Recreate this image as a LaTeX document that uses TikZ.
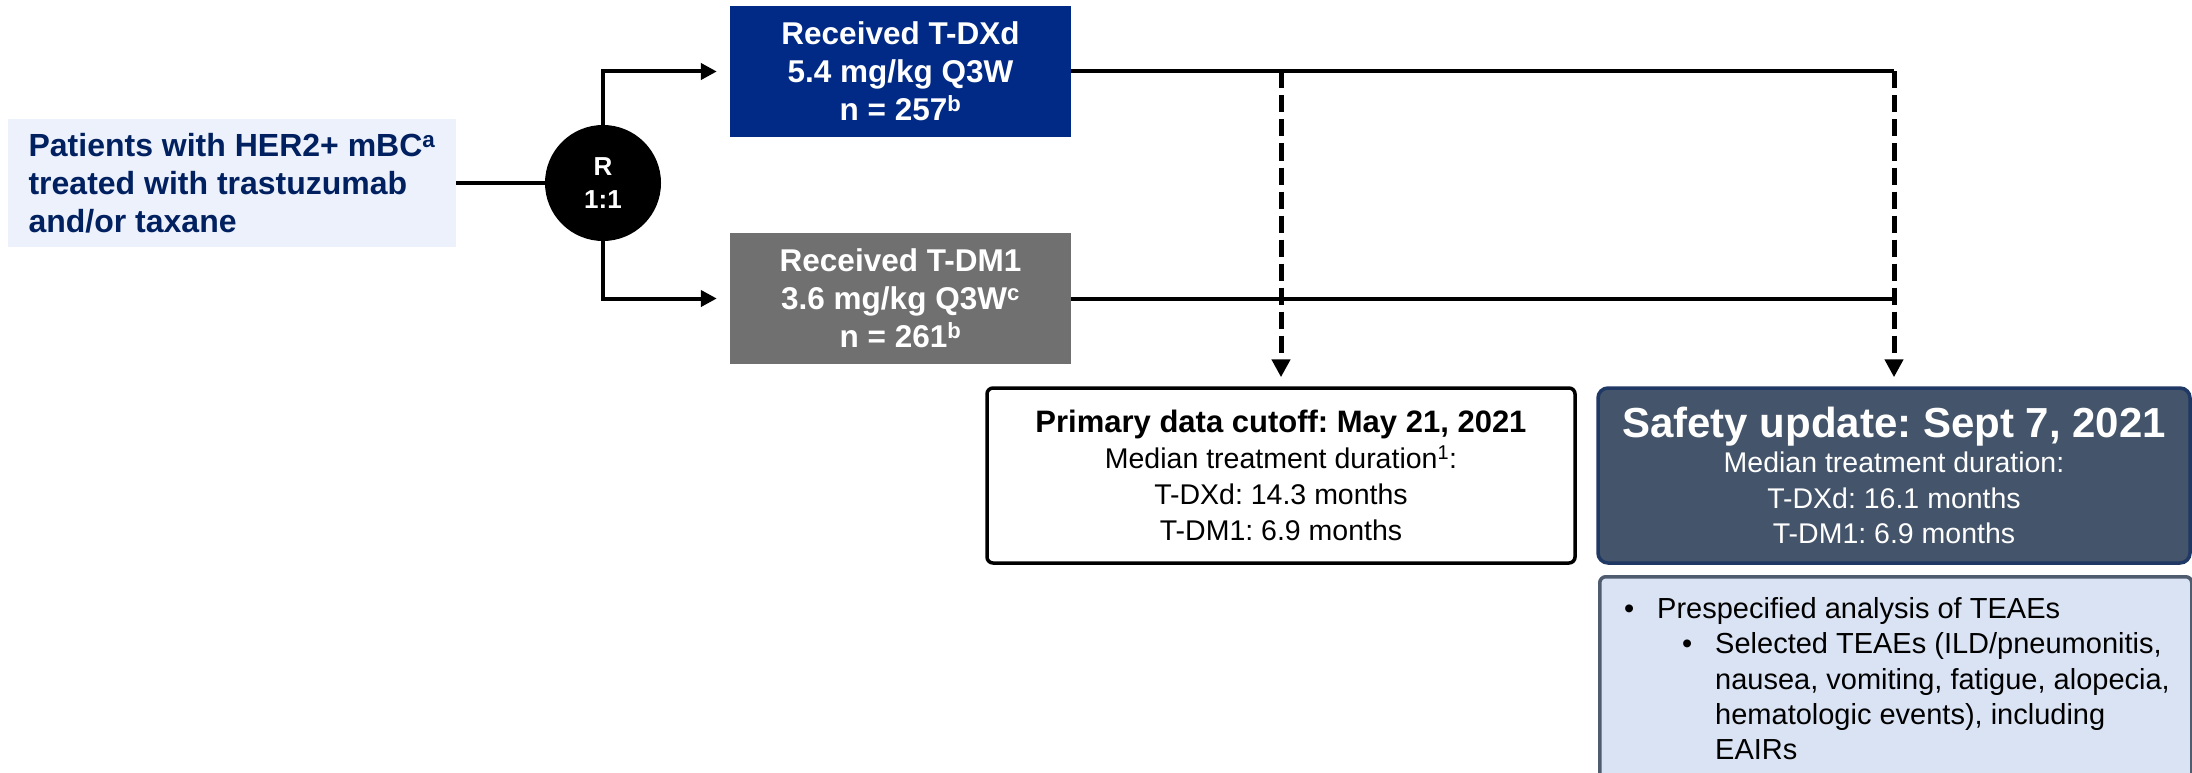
\documentclass[tikz,border=0pt]{standalone}
\usepackage{fontspec}
\setmainfont{Liberation Sans}
\usetikzlibrary{arrows.meta}
\frenchspacing

\definecolor{navytext}{HTML}{002060}
\definecolor{popfill}{HTML}{EDF1FB}
\definecolor{tdxdblue}{HTML}{002A85}
\definecolor{tdmgray}{HTML}{707070}
\definecolor{safetyfill}{HTML}{44546A}
\definecolor{safetyedge}{HTML}{1F3864}
\definecolor{teaefill}{HTML}{DAE3F3}
\definecolor{teaeedge}{HTML}{4F5B6E}

\begin{document}
\begin{tikzpicture}[x=1pt,y=-1pt,
  flow/.style={line width=4pt},
  arr/.style={flow,-{Triangle[length=16pt,width=16pt]}},
  dasharr/.style={line width=5pt,dash pattern=on 17pt off 7pt,
    -{Triangle[length=18pt,width=18pt]},shorten >=9pt},
  armbox/.style={inner sep=0pt,minimum width=341pt,minimum height=131pt,
    align=center,text=white,font=\bfseries\fontsize{31.5}{38}\selectfont},
  listline/.style={anchor=base west,inner sep=0pt,font=\fontsize{29}{35}\selectfont}
]
\useasboundingbox (0,0) rectangle (2192,773);
\clip (0,0) rectangle (2192,773);

% population and randomisation
\node[fill=popfill,inner sep=0pt,minimum width=448pt,minimum height=127pt,
  align=left,text=navytext,font=\bfseries\fontsize{32}{38}\selectfont]
  (pop) at (232,183) {Patients with HER2+ mBC\textsuperscript{a}\\treated with trastuzumab\\and/or taxane};
\node[circle,fill=black,minimum size=116pt,inner sep=0pt,text=white,align=center,
  font=\bfseries\fontsize{26}{33}\selectfont] (rand) at (603,183) {R\\1:1};

% treatment arms
\node[armbox,fill=tdxdblue] (tdxd) at (900.5,71.5)
  {Received T-DXd\\5.4 mg/kg Q3W\\n = 257\textsuperscript{b}};
\node[armbox,fill=tdmgray] (tdm1) at (900.5,298.5)
  {Received T-DM1\\3.6 mg/kg Q3W\textsuperscript{c}\\n = 261\textsuperscript{b}};

% data cutoffs
\node[draw=black,line width=3.5pt,rounded corners=6pt,minimum width=588pt,
  minimum height=175pt,inner sep=0pt,align=center,
  font=\fontsize{28.5}{36}\selectfont] (primary) at (1281,475.5)
  {{\bfseries\fontsize{31}{36}\selectfont Primary data cutoff: May 21, 2021}\\
   Median treatment duration\textsuperscript{1}:\\T-DXd: 14.3 months\\T-DM1: 6.9 months};
\node[draw=safetyedge,fill=safetyfill,line width=3.5pt,rounded corners=10pt,
  minimum width=592pt,minimum height=175pt,inner sep=0pt,align=center,text=white,
  font=\fontsize{28.5}{35.5}\selectfont] (safety) at (1894,475.5)
  {{\bfseries\fontsize{42}{36}\selectfont Safety update: Sept 7, 2021}\\
   Median treatment duration:\\T-DXd: 16.1 months\\T-DM1: 6.9 months};

% analyses list
\node[draw=teaeedge,fill=teaefill,line width=3.5pt,rounded corners=6pt,
  minimum width=592pt,minimum height=230pt,inner sep=0pt,anchor=north west]
  (teae) at (1598,575) {};
\node[listline] (b1) at (1624,618) {•};
\node[listline] (t1) at (1657,618) {Prespecified analysis of TEAEs};
\node[listline] (b2) at (1682,653) {•};
\node[listline] (t2) at (1715,653) {Selected TEAEs (ILD/pneumonitis,};
\node[listline] (t3) at (1715,689) {nausea, vomiting, fatigue, alopecia,};
\node[listline] (t4) at (1715,724) {hematologic events), including};
\node[listline] (t5) at (1715,759) {EAIRs};

% connectors
\draw[flow] (pop.east) -- (rand.west);
\draw[arr,shorten >=13pt] (rand.north) |- (tdxd.west);
\draw[arr,shorten >=13pt] (rand.south) |- (tdm1.west);

\coordinate (j1) at (primary.north |- tdxd.east);
\coordinate (j2) at (safety.north |- tdxd.east);
\coordinate (k2) at (safety.north |- tdm1.east);
\draw[flow] (tdxd.east) -- (j2);
\draw[flow] (tdm1.east) -- (k2);
\draw[dasharr] (j1) -- (primary.north);
\draw[dasharr] (j2) -- (safety.north);
\end{tikzpicture}
\end{document}
